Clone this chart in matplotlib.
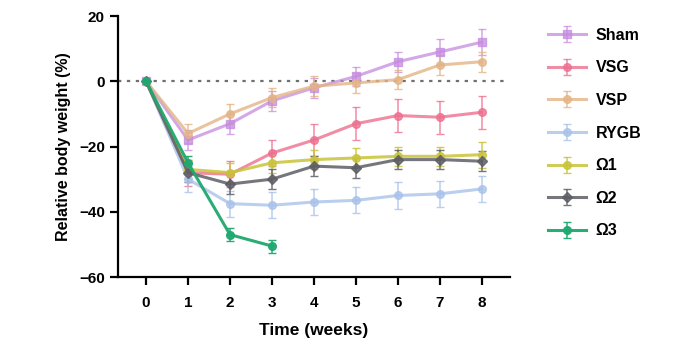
import matplotlib.pyplot as plt
import numpy as np

# data
weeks = [0, 1, 2, 3, 4, 5, 6, 7, 8]
weeks_o3 = [0, 1, 2, 3]

sham = [0, -18, -13, -6, -2, 1.5, 6, 9, 12]
vsg = [0, -28, -28.5, -22, -18, -13, -10.5, -11, -9.5]
vsp = [0, -16, -10, -5, -1.5, -0.5, 0.5, 5, 6]
rygb = [0, -30, -37.5, -38, -37, -36.5, -35, -34.5, -33]
o1 = [0, -27, -28, -25, -24, -23.5, -23, -23, -22.5]
o2 = [0, -28, -31.5, -30, -26, -26.5, -24, -24, -24.5]
o3 = [0, -25, -47, -50.5]

sham_err = [0, 3, 3, 3, 3, 3, 3, 4, 4]
vsg_err = [0, 4, 4, 4, 5, 5, 5, 5, 5]
vsp_err = [0, 3, 3, 3, 3, 3, 3, 3, 3]
rygb_err = [0, 4, 4, 4, 4, 4, 4, 4, 4]
o1_err = [0, 3, 3, 3, 3, 3, 3, 3, 4]
o2_err = [0, 3, 3, 3, 3, 3, 3, 3, 3]
o3_err = [0, 2, 2, 2]

labels = ["Sham", "VSG", "VSP", "RYGB", "\u03a91", "\u03a92", "\u03a93"]

plt.rcParams['font.family'] = ['Liberation Sans', 'DejaVu Sans']
plt.rcParams['font.weight'] = 'bold'

fig = plt.figure(figsize=(6.78, 3.57), dpi=100)
ax = fig.add_axes([0.174, 0.224, 0.578, 0.731])

ax.plot([-0.67, 8.55], [0, 0], linestyle=(0, (1.5, 2.5)), color="#707070", lw=1.6, zorder=1)

series = [
    (weeks, sham, sham_err, "#c58be0", "s", 0.75),
    (weeks, vsg, vsg_err, "#ee6f8f", "o", 0.8),
    (weeks, vsp, vsp_err, "#e3b486", "o", 0.8),
    (weeks, rygb, rygb_err, "#a9c2ea", "o", 0.8),
    (weeks, o1, o1_err, "#c8c43a", "o", 0.85),
    (weeks, o2, o2_err, "#5e5e66", "D", 0.85),
    (weeks_o3, o3, o3_err, "#1fa870", "o", 0.95),
]

for (x, y, e, c, m, a), lab in zip(series, labels):
    ax.errorbar(x, y, yerr=e, color=c, marker=m, markersize=5.5, lw=2.2,
                elinewidth=1.1, capsize=3, alpha=a, label=lab, zorder=3)

ax.set_xlim(-0.67, 8.67)
ax.set_ylim(-60, 20)
ax.set_xticks(weeks)
ax.set_yticks([-60, -40, -20, 0, 20])
ax.spines['top'].set_visible(False)
ax.spines['right'].set_visible(False)
ax.spines['left'].set_linewidth(1.6)
ax.spines['bottom'].set_linewidth(1.6)
ax.tick_params(direction='out', width=1.6, length=6, labelsize=11)
ax.tick_params(axis='x', pad=8)
ax.set_xlabel("Time (weeks)", fontsize=12.5, fontweight='bold', labelpad=9)
ax.set_ylabel("Relative body weight (%)", fontsize=11.5, fontweight='bold', labelpad=6)

ax.legend(loc='upper left', bbox_to_anchor=(1.06, 1.01), frameon=False,
          fontsize=11.5, labelspacing=1.1, handlelength=2.4, handletextpad=0.6)

plt.savefig('out.png', dpi=100)
